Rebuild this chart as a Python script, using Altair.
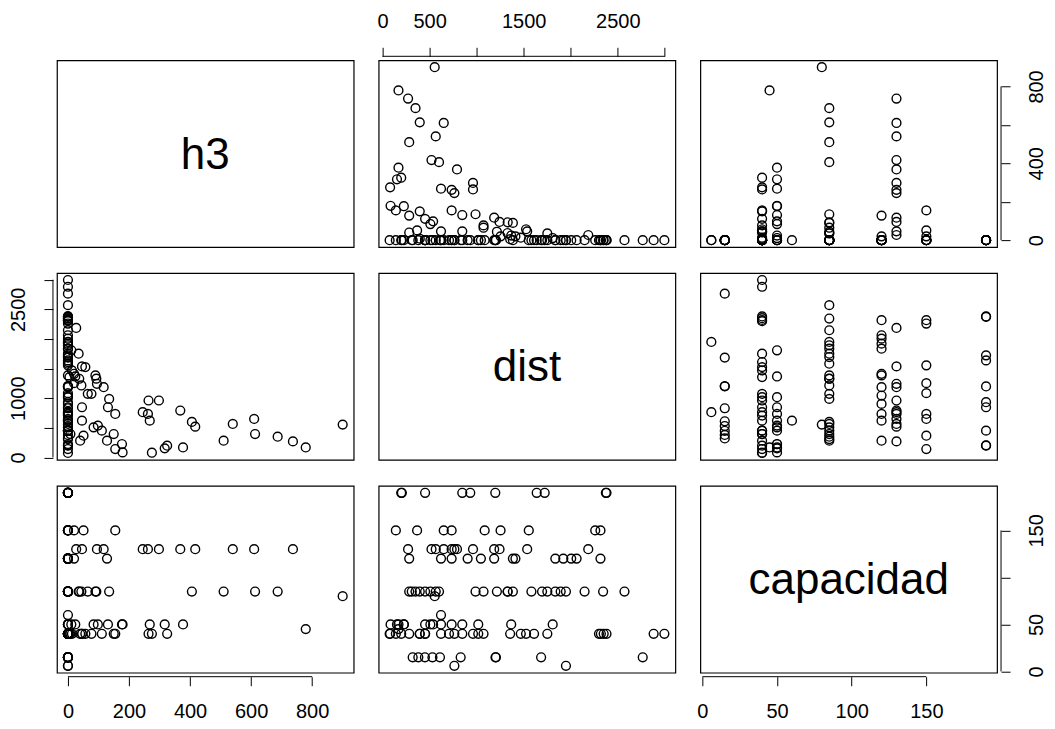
import altair as alt
import pandas as pd

# ---- data: one row per observation (h3, dist, capacidad) ----
h3 = [
    0, 0,
    0, 0, 0, 0, 0, 0, 0, 0, 0, 0,
    13, 46, 77, 111, 150, 275, 325, 264, 57, 46, 40, 155,
    0, 0, 0, 0, 0, 0, 0, 0, 5, 0, 0, 0, 0, 0, 8,
    779,
    377, 179, 177, 268, 131, 84, 98, 317, 11, 24, 0, 0, 0, 0,
    0,
    900,
    687, 613, 510, 406, 135, 90, 37, 44, 65, 35, 93,
    0, 0, 0, 0, 0, 0, 0, 0, 0, 0, 0, 0,
    128, 20, 0, 0, 0, 0, 0, 0, 0, 0, 0, 0, 0,
    737, 610, 540, 417, 368, 298, 262, 245, 117, 95, 46, 27,
    155, 51, 20, 0, 0, 0, 0, 0, 0,
    0, 0, 0, 0, 0, 0, 0, 0, 0, 0,
]
dist = [
    1949, 763,
    320, 380, 450, 530, 610, 830, 1200, 1205, 1685, 2765,
    1469, 621, 1073, 452, 395, 80, 198, 961, 1525, 847, 283, 141,
    2995, 2881, 2380, 2350, 2320, 2300, 1751, 1610, 1356, 1017, 763, 706, 75, 452, 395,
    169,
    169, 85, 226, 621, 847, 508, 537, 153, 1808, 1367, 1017, 734, 452, 226,
    621,
    554,
    350, 395, 283, 600, 988, 1385, 1328, 1215, 1073, 1751, 1330,
    2571, 2344, 2147, 1949, 1893, 1836, 1695, 1582, 565, 508, 452, 310,
    283, 1412, 2316, 2062, 2005, 1921, 1836, 1385, 1186, 1045, 904, 734, 621,
    271, 650, 565, 520, 791, 961, 734, 763, 1186, 1243, 1537, 2186,
    734, 367, 1254, 2316, 2260, 1554, 1085, 650, 141,
    2373, 2380, 1723, 1638, 1198, 932, 847, 452, 198, 205,
]
capacidad = (
    [6] * 2 + [15] * 10 + [40] * 27 + [45] * 1 + [50] * 14 + [60] * 1 + [80] * 1
    + [85] * 23 + [120] * 13 + [130] * 12 + [150] * 9 + [190] * 10
)

variables = ["h3", "dist", "capacidad"]
ticks = {
    "h3": [0, 200, 400, 600, 800],
    "dist": [0, 500, 1000, 1500, 2000, 2500, 3000],
    "capacidad": [0, 50, 100, 150],
}
# labels R kept after its overlap check
label_keep = {
    ("h3", "bottom"): [0, 200, 400, 600, 800],
    ("h3", "right"): [0, 400, 800],
    ("dist", "top"): [0, 500, 1500, 2500],
    ("dist", "left"): [0, 1000, 2500],
    ("capacidad", "bottom"): [0, 50, 100, 150],
    ("capacidad", "right"): [0, 50, 150],
}

df = pd.DataFrame({"h3": h3, "dist": dist, "capacidad": capacidad})

dom = {}
for v in variables:
    lo, hi = float(df[v].min()), float(df[v].max())
    r = hi - lo
    dom[v] = [lo - 0.04 * r, hi + 0.04 * r]

W, H = 297, 187
FONT = "Liberation Sans"
LFS = 20


def scale(v):
    return alt.Scale(domain=dom[v], nice=False, zero=False)


def make_axis(var, orient):
    keep = label_keep[(var, orient)]
    expr = "indexof(" + str(keep) + ", datum.value) >= 0 ? format(datum.value, 'd') : ''"
    kw = dict(
        orient=orient, values=ticks[var], labelExpr=expr, domain=False,
        ticks=True, tickSize=9, tickWidth=1, tickColor="black", offset=4,
        labelFont=FONT, labelFontSize=LFS, labelColor="black", grid=False,
        title=None, labelOverlap=False, labelFlush=False,
    )
    if orient == "top":
        kw.update(labelPadding=16)
    elif orient == "bottom":
        kw.update(labelPadding=16)
    elif orient == "left":
        kw.update(labelPadding=15, labelAngle=270, labelAlign="center", labelBaseline="bottom")
    else:
        kw.update(labelPadding=16, labelAngle=270, labelAlign="center", labelBaseline="top")
    return alt.Axis(**kw)


# which axes are drawn where (R pairs layout)
x_axis_at = {(0, 1): "top", (2, 0): "bottom", (2, 2): "bottom"}
y_axis_at = {(1, 0): "left", (0, 2): "right", (2, 2): "right"}

panels = []
for i, yv in enumerate(variables):
    for j, xv in enumerate(variables):
        xa = make_axis(xv, x_axis_at[(i, j)]) if (i, j) in x_axis_at else None
        ya = make_axis(yv, y_axis_at[(i, j)]) if (i, j) in y_axis_at else None
        diag = i == j
        pts = alt.Chart(df).mark_point(
            shape="circle", filled=False, color="black", size=78, strokeWidth=1.4,
            opacity=0 if diag else 1,
        ).encode(
            x=alt.X(xv + ":Q", scale=scale(xv), axis=xa),
            y=alt.Y(yv + ":Q", scale=scale(yv), axis=ya),
        )
        layers = [pts]
        if diag:
            lab = pd.DataFrame({"label": [xv]})
            txt = alt.Chart(lab).mark_text(
                font=FONT, fontSize=44, color="black", align="center", baseline="middle"
            ).encode(text="label:N", x=alt.value(W / 2), y=alt.value(H / 2 + 2))
            layers.append(txt)
        if (i, j) in x_axis_at:
            o = x_axis_at[(i, j)]
            rule = alt.Chart(pd.DataFrame({xv: [ticks[xv][0]], "b": [ticks[xv][-1]]})).mark_rule(
                color="black", strokeWidth=1
            ).encode(x=alt.X(xv + ":Q", scale=scale(xv), axis=xa), x2="b:Q",
                     y=alt.value(H + 4 if o == "bottom" else -4))
            layers.append(rule)
        if (i, j) in y_axis_at:
            o = y_axis_at[(i, j)]
            rule = alt.Chart(pd.DataFrame({yv: [ticks[yv][0]], "b": [ticks[yv][-1]]})).mark_rule(
                color="black", strokeWidth=1
            ).encode(y=alt.Y(yv + ":Q", scale=scale(yv), axis=ya), y2="b:Q",
                     x=alt.value(W + 4 if o == "right" else -4))
            layers.append(rule)
        panels.append(alt.layer(*layers).properties(width=W, height=H))

chart = alt.concat(*panels, columns=3, spacing={"row": 26, "column": 25}, bounds="flush").properties(
    padding={"left": 0, "top": 2, "right": 0, "bottom": 0}, background="white"
).configure_view(stroke="black", strokeWidth=1.2)

chart.save("out.html", embed_options={"renderer": "svg", "actions": False})
